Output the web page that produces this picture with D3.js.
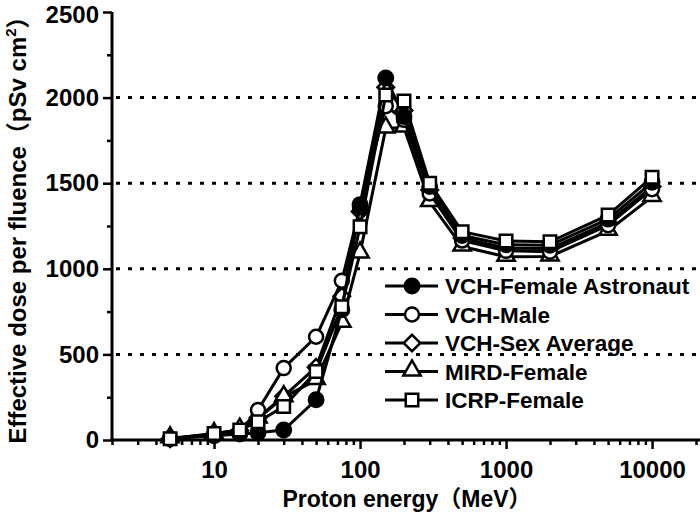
<!DOCTYPE html>
<html>
<head>
<meta charset="utf-8">
<script src="https://cdn.jsdelivr.net/npm/d3@7"></script>
<style>
  html, body { margin: 0; padding: 0; background: #fff; }
  svg text { font-family: "Liberation Sans", Arial, "Noto Sans CJK SC", sans-serif; font-weight: bold; }
</style>
</head>
<body>
<svg id="chart" width="700" height="526"></svg>
<script>
// ---- data ----
const energies = [5, 10, 15, 20, 30, 50, 75, 100, 150, 200, 300, 500, 1000, 2000, 5000, 10000];
const vchFemaleAstronaut = [8, 25, 35, 42, 58, 235, 760, 1375, 2115, 1890, 1480, 1195, 1140, 1138, 1290, 1505];
const vchMale            = [8, 30, 50, 175, 420, 603, 930, 1360, 1950, 1870, 1440, 1165, 1105, 1100, 1255, 1465];
const vchSexAverage      = [8, 32, 55, 130, 255, 425, 840, 1335, 2060, 1925, 1460, 1180, 1120, 1118, 1270, 1480];
const mirdFemale         = [10, 35, 60, 125, 250, 350, 685, 1090, 1820, 1825, 1390, 1130, 1070, 1072, 1222, 1420];
const icrpFemale         = [8, 38, 58, 107, 195, 400, 779, 1245, 2015, 1980, 1500, 1217, 1162, 1158, 1314, 1535];
const seriesNames = ["VCH-Female Astronaut", "VCH-Male", "VCH-Sex Average", "MIRD-Female", "ICRP-Female"];
const seriesMarkers = ["filledCircle", "circle", "diamond", "triangle", "square"];
const yMajorTicks = [0, 500, 1000, 1500, 2000, 2500];
const yMinorTicks = [250, 750, 1250, 1750, 2250];
const yGridValues = [500, 1000, 1500, 2000];
const xMajorTicks = [10, 100, 1000, 10000];
const xMinorTicks = [2,3,4,5,6,7,8,9,20,30,40,50,60,70,80,90,200,300,400,500,600,700,800,900,2000,3000,4000,5000,6000,7000,8000,9000,20000];
const xTitle = "Proton energy（MeV）";
const yTitle = "Effective dose per fluence（pSv cm";

const seriesValues = [vchFemaleAstronaut, vchMale, vchSexAverage, mirdFemale, icrpFemale];

// ---- layout ----
const svg = d3.select("#chart");
const plotL = 112, plotR = 696, plotT = 12, plotB = 440;
const x = d3.scaleLog().domain([2, 20000]).range([plotL, plotR]);
const y = d3.scaleLinear().domain([0, 2500]).range([plotB, plotT]);

// grid
svg.append("g").selectAll("line").data(yGridValues).join("line")
  .attr("x1", plotL + 4).attr("x2", 700)
  .attr("y1", d => y(d)).attr("y2", d => y(d))
  .attr("stroke", "#000").attr("stroke-width", 3)
  .attr("stroke-dasharray", "4,8");

// axes
const tickFont = 24, legendFont = 22.5, xTitleFont = 23, yTitleFont = 24;
const xAxisMinor = svg.append("g").attr("transform", `translate(0,${plotB})`)
  .call(d3.axisBottom(x).tickValues(xMinorTicks).tickSize(5).tickFormat(""));
const xAxisMajor = svg.append("g").attr("transform", `translate(0,${plotB})`)
  .call(d3.axisBottom(x).tickValues(xMajorTicks).tickSize(9).tickPadding(12).tickFormat(d3.format("d")));
const yAxisMinor = svg.append("g").attr("transform", `translate(${plotL},0)`)
  .call(d3.axisLeft(y).tickValues(yMinorTicks).tickSize(5).tickFormat(""));
const yAxisMajor = svg.append("g").attr("transform", `translate(${plotL},0)`)
  .call(d3.axisLeft(y).tickValues(yMajorTicks).tickSize(9).tickPadding(4).tickFormat(d3.format("d")));

[xAxisMinor, xAxisMajor, yAxisMinor, yAxisMajor].forEach(g => {
  g.selectAll("path.domain").attr("stroke", "#000").attr("stroke-width", 3);
  g.selectAll(".tick line").attr("stroke", "#000").attr("stroke-width", 2.5);
  g.selectAll(".tick text").attr("fill", "#000").attr("font-size", tickFont)
    .attr("font-family", null).attr("font-weight", "bold");
});
yAxisMajor.selectAll(".tick text").filter(d => d === 2500).attr("dy", "0.42em");
xAxisMinor.select("path.domain").attr("d", `M${plotL - 2},0H700`);
xAxisMajor.select("path.domain").remove();
yAxisMinor.select("path.domain").attr("d", `M0,${plotB + 1}V${plotT}`);
yAxisMajor.select("path.domain").remove();

// axis titles
svg.append("text").attr("x", 407).attr("y", 507).attr("text-anchor", "middle")
  .attr("font-size", xTitleFont).attr("fill", "#000").text(xTitle);
const yt = svg.append("text").attr("transform", "translate(26,224) rotate(-90)")
  .attr("text-anchor", "middle").attr("font-size", yTitleFont).attr("fill", "#000");
yt.append("tspan").text(yTitle);
yt.append("tspan").attr("font-size", 15).attr("dy", -10).text("2");
yt.append("tspan").attr("dy", 10).text("）");

// markers
function drawMarker(g, type) {
  const sw = 2.5;
  if (type === "filledCircle") {
    g.append("path").attr("d", d3.symbol(d3.symbolCircle, Math.PI * 52)())
      .attr("fill", "#000").attr("stroke", "#000").attr("stroke-width", sw);
  } else if (type === "circle") {
    g.append("path").attr("d", d3.symbol(d3.symbolCircle, Math.PI * 49)())
      .attr("fill", "#fff").attr("stroke", "#000").attr("stroke-width", sw);
  } else if (type === "diamond") {
    g.append("path").attr("d", d3.symbol(d3.symbolSquare, 136)()).attr("transform", "rotate(45)")
      .attr("fill", "#fff").attr("stroke", "#000").attr("stroke-width", sw);
  } else if (type === "triangle") {
    g.append("path").attr("d", d3.symbol(d3.symbolTriangle, 130)()).attr("transform", "translate(0,-1)")
      .attr("fill", "#fff").attr("stroke", "#000").attr("stroke-width", sw);
  } else if (type === "square") {
    g.append("path").attr("d", d3.symbol(d3.symbolSquare, 156)())
      .attr("fill", "#fff").attr("stroke", "#000").attr("stroke-width", sw);
  }
}

const line = d3.line().x(d => x(d[0])).y(d => y(d[1]));
const drawOrder = [2, 3, 1, 0, 4];
drawOrder.forEach(si => {
  const pts = energies.map((e, i) => [e, seriesValues[si][i]]);
  const g = svg.append("g");
  g.append("path").attr("d", line(pts)).attr("fill", "none")
    .attr("stroke", "#000").attr("stroke-width", 3).attr("stroke-linejoin", "round");
  g.selectAll("g.m").data(pts).join("g").attr("class", "m")
    .attr("transform", d => `translate(${x(d[0])},${y(d[1])})`)
    .each(function() { drawMarker(d3.select(this), seriesMarkers[si]); });
});

// legend
const legend = svg.append("g");
const legX1 = 385, legX2 = 438, legMX = 412, legTX = 445, legY0 = 286, legDY = 28.5;
seriesNames.forEach((name, i) => {
  const ly = legY0 + i * legDY;
  legend.append("line").attr("x1", legX1).attr("x2", legX2).attr("y1", ly).attr("y2", ly)
    .attr("stroke", "#000").attr("stroke-width", 3);
  const mg = legend.append("g").attr("transform", `translate(${legMX},${ly})`);
  drawMarker(mg, seriesMarkers[i]);
  legend.append("text").attr("x", legTX).attr("y", ly + 8).attr("font-size", legendFont)
    .attr("fill", "#000").text(name);
});
</script>
</body>
</html>
